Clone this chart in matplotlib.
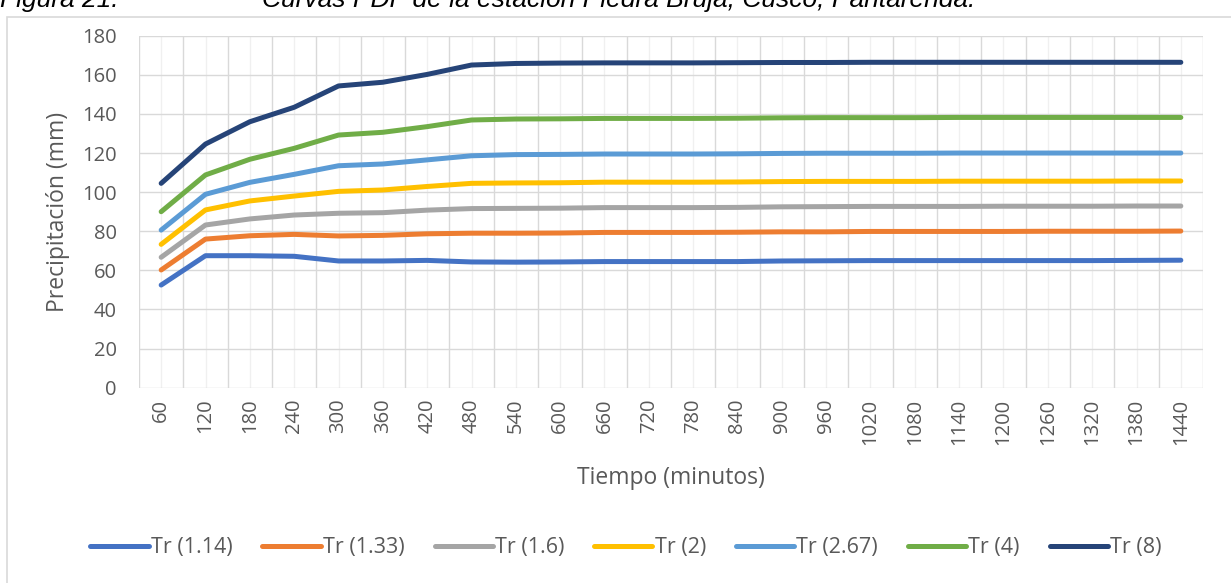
import numpy as np
import matplotlib.pyplot as plt
from matplotlib.patches import Rectangle

# -------------------------------
# DATA
# -------------------------------
tiempo = [60, 120, 180, 240, 300, 360, 420, 480, 540, 600, 660, 720,
          780, 840, 900, 960, 1020, 1080, 1140, 1200, 1260, 1320, 1380, 1440]

tr_114 = [52.5, 67.5, 67.5, 67.2, 64.8, 64.8, 65.1, 64.3, 64.2, 64.3, 64.5, 64.5,
          64.5, 64.5, 64.8, 64.9, 65.0, 65.0, 65.0, 65.0, 65.0, 65.0, 65.1, 65.2]
tr_133 = [60.2, 76.0, 77.7, 78.4, 77.6, 77.9, 78.7, 79.0, 79.0, 79.1, 79.4, 79.4,
          79.4, 79.5, 79.7, 79.7, 79.9, 79.9, 79.9, 79.9, 80.0, 80.0, 80.0, 80.1]
tr_160 = [66.7, 83.2, 86.3, 88.3, 89.2, 89.5, 90.8, 91.6, 91.7, 91.8, 92.1, 92.1,
          92.1, 92.2, 92.5, 92.6, 92.7, 92.7, 92.7, 92.8, 92.8, 92.8, 92.9, 92.9]
tr_200 = [73.3, 90.9, 95.5, 98.0, 100.4, 101.1, 102.9, 104.5, 104.7, 104.8, 105.1, 105.1,
          105.1, 105.2, 105.4, 105.5, 105.5, 105.5, 105.6, 105.6, 105.6, 105.6, 105.7, 105.7]
tr_267 = [80.6, 98.9, 105.0, 109.1, 113.5, 114.4, 116.5, 118.6, 119.2, 119.3, 119.5, 119.5,
          119.5, 119.6, 119.8, 119.9, 119.9, 119.9, 120.0, 120.0, 120.0, 120.0, 120.0, 120.0]
tr_400 = [90.0, 108.8, 116.8, 122.4, 129.2, 130.6, 133.5, 136.9, 137.4, 137.5, 137.7, 137.7,
          137.7, 137.8, 138.0, 138.1, 138.1, 138.1, 138.2, 138.2, 138.2, 138.2, 138.2, 138.2]
tr_800 = [104.5, 124.6, 136.0, 143.4, 154.3, 156.2, 160.2, 165.0, 165.8, 166.0, 166.1, 166.1,
          166.1, 166.2, 166.3, 166.3, 166.4, 166.4, 166.4, 166.4, 166.4, 166.4, 166.4, 166.4]

series = [tr_114, tr_133, tr_160, tr_200, tr_267, tr_400, tr_800]
labels = ["Tr (1.14)", "Tr (1.33)", "Tr (1.6)", "Tr (2)", "Tr (2.67)", "Tr (4)", "Tr (8)"]
colors = ["#4472C4", "#ED7D31", "#A5A5A5", "#FFC000", "#5B9BD5", "#70AD47", "#264478"]

# -------------------------------
# PLOT
# -------------------------------
plt.rcParams['font.family'] = ['Open Sans', 'DejaVu Sans']

fig = plt.figure(figsize=(12.31, 5.83), dpi=100)
ax = fig.add_axes([139/1231, 1 - 387.7/583, 1064/1231, 352/583])

pos = np.arange(len(tiempo))
for vals, lab, col in zip(series, labels, colors):
    ax.plot(pos, vals, color=col, lw=3.6, label=lab, solid_capstyle='round',
            solid_joinstyle='round', zorder=3)

ax.set_xlim(-0.5, len(tiempo) - 0.5)
ax.set_ylim(0, 180)
ax.set_yticks(np.arange(0, 181, 20))
ax.set_xticks(pos)
ax.set_xticklabels([str(t) for t in tiempo], rotation=90, fontsize=14.5, color="#595959")
ax.set_xticks(np.arange(-0.5, len(tiempo), 1), minor=True)
ax.tick_params(axis='y', length=0, pad=16, labelsize=14.5, labelcolor="#595959")
ax.tick_params(axis='x', which='both', length=0, pad=8)

# gridlines: light at category centres, darker at boundaries
ax.grid(axis='x', which='major', color="#f0f0f0", lw=1.0, zorder=0)
ax.grid(axis='x', which='minor', color="#d9d9d9", lw=1.0, zorder=1)
ax.grid(axis='y', which='major', color="#d9d9d9", lw=1.0, zorder=1)
for s in ax.spines.values():
    s.set_visible(False)

ax.set_ylabel("Precipitación (mm)", fontsize=16.5, color="#595959")
ax.yaxis.set_label_coords(-0.0761, 0.5)
ax.set_xlabel("Tiempo (minutos)", fontsize=16.5, color="#595959")
ax.xaxis.set_label_coords(0.5, -0.2565)
ax.xaxis.label.set_va('center')
ax.yaxis.label.set_va('center')

fig.legend(loc='center', bbox_to_anchor=(626/1231, 1 - 548/583), ncol=7,
           frameon=False, fontsize=15.5, handlelength=2.7, handletextpad=0.1,
           columnspacing=1.4, labelcolor="#595959")

# chart border (extends past the picture edge)
fig.patches.append(Rectangle((7/1231, -0.1), 1.2, 1 - 17/583 + 0.1,
                             transform=fig.transFigure, fill=False,
                             edgecolor="#d9d9d9", lw=1.2))

# caption, cut at the top edge as in the source
fig.text(0/1231, 1 - 7/583, "Figura 21.", fontsize=19, style='italic',
         family='Liberation Sans', va='baseline')
fig.text(262/1231, 1 - 7/583, "Curvas PDF de la estación Piedra Bruja, Cusco, Pantarenda.",
         fontsize=19, style='italic', family='Liberation Sans', va='baseline')

fig.savefig("out.png", dpi=100)
